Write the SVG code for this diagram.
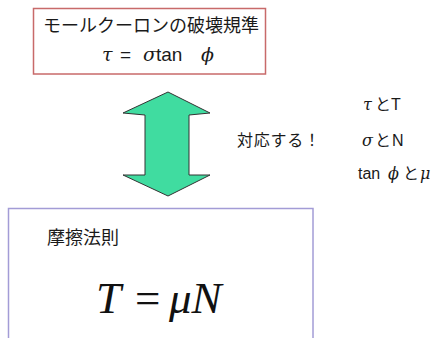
<svg xmlns="http://www.w3.org/2000/svg" width="443" height="338" viewBox="0 0 443 338">
<style>
.jp{font-family:"Noto Sans CJK JP","Liberation Sans",sans-serif;fill:#1a1a1a;}
.sans{font-family:"Liberation Sans","Noto Sans CJK JP",sans-serif;fill:#1a1a1a;}
.gk{font-family:"DejaVu Serif","Liberation Serif",serif;font-style:italic;fill:#1a1a1a;}
.tm{font-family:"Liberation Serif","Times New Roman",serif;fill:#111;}
</style>
<rect width="443" height="338" fill="#ffffff"/>
<g id="mohr-coulomb">
<rect x="33.5" y="8.5" width="232" height="65.5" fill="#ffffff" stroke="#c86a6a" stroke-width="1.5"/>
<text class="jp" x="43" y="32" font-size="18" textLength="216" lengthAdjust="spacing">モールクーロンの破壊規準</text>
<text y="61" font-size="19"><tspan class="gk" x="102">τ</tspan><tspan class="sans" x="120">=</tspan><tspan class="gk" x="143">σ</tspan><tspan class="sans" x="156">tan</tspan><tspan class="gk" x="201">ϕ</tspan></text>
</g>
<g id="connectors">
<polygon points="168,92 210,113 189,115 189,175 210,175 168,196 123,175 145,175 145,115 123,113" fill="#40dca0" stroke="#333333" stroke-width="1" stroke-linejoin="miter"/>
</g>
<g id="label-correspond">
<text class="jp" x="237" y="146" font-size="16" textLength="83" lengthAdjust="spacing">対応する！</text>
</g>
<g id="pairs">
<text y="110" font-size="16"><tspan class="gk" x="363">τ</tspan><tspan class="jp" x="375">と</tspan><tspan class="sans" x="391">T</tspan></text>
<text y="146" font-size="16"><tspan class="gk" x="362">σ</tspan><tspan class="jp" x="375">と</tspan><tspan class="sans" x="392">N</tspan></text>
<text y="179" font-size="16"><tspan class="sans" x="358">tan</tspan><tspan class="gk" x="388">ϕ</tspan><tspan class="jp" x="403">と</tspan><tspan class="gk" x="420">μ</tspan></text>
</g>
<g id="friction-law">
<rect x="8.5" y="208.5" width="304.5" height="140" fill="#ffffff" stroke="#a39cd6" stroke-width="1.5"/>
<text class="jp" x="47" y="244" font-size="18">摩擦法則</text>
<text class="tm" y="313" font-size="45"><tspan x="96" font-style="italic">T</tspan><tspan x="135">=</tspan><tspan x="169" font-style="italic">μN</tspan></text>
</g>
</svg>
